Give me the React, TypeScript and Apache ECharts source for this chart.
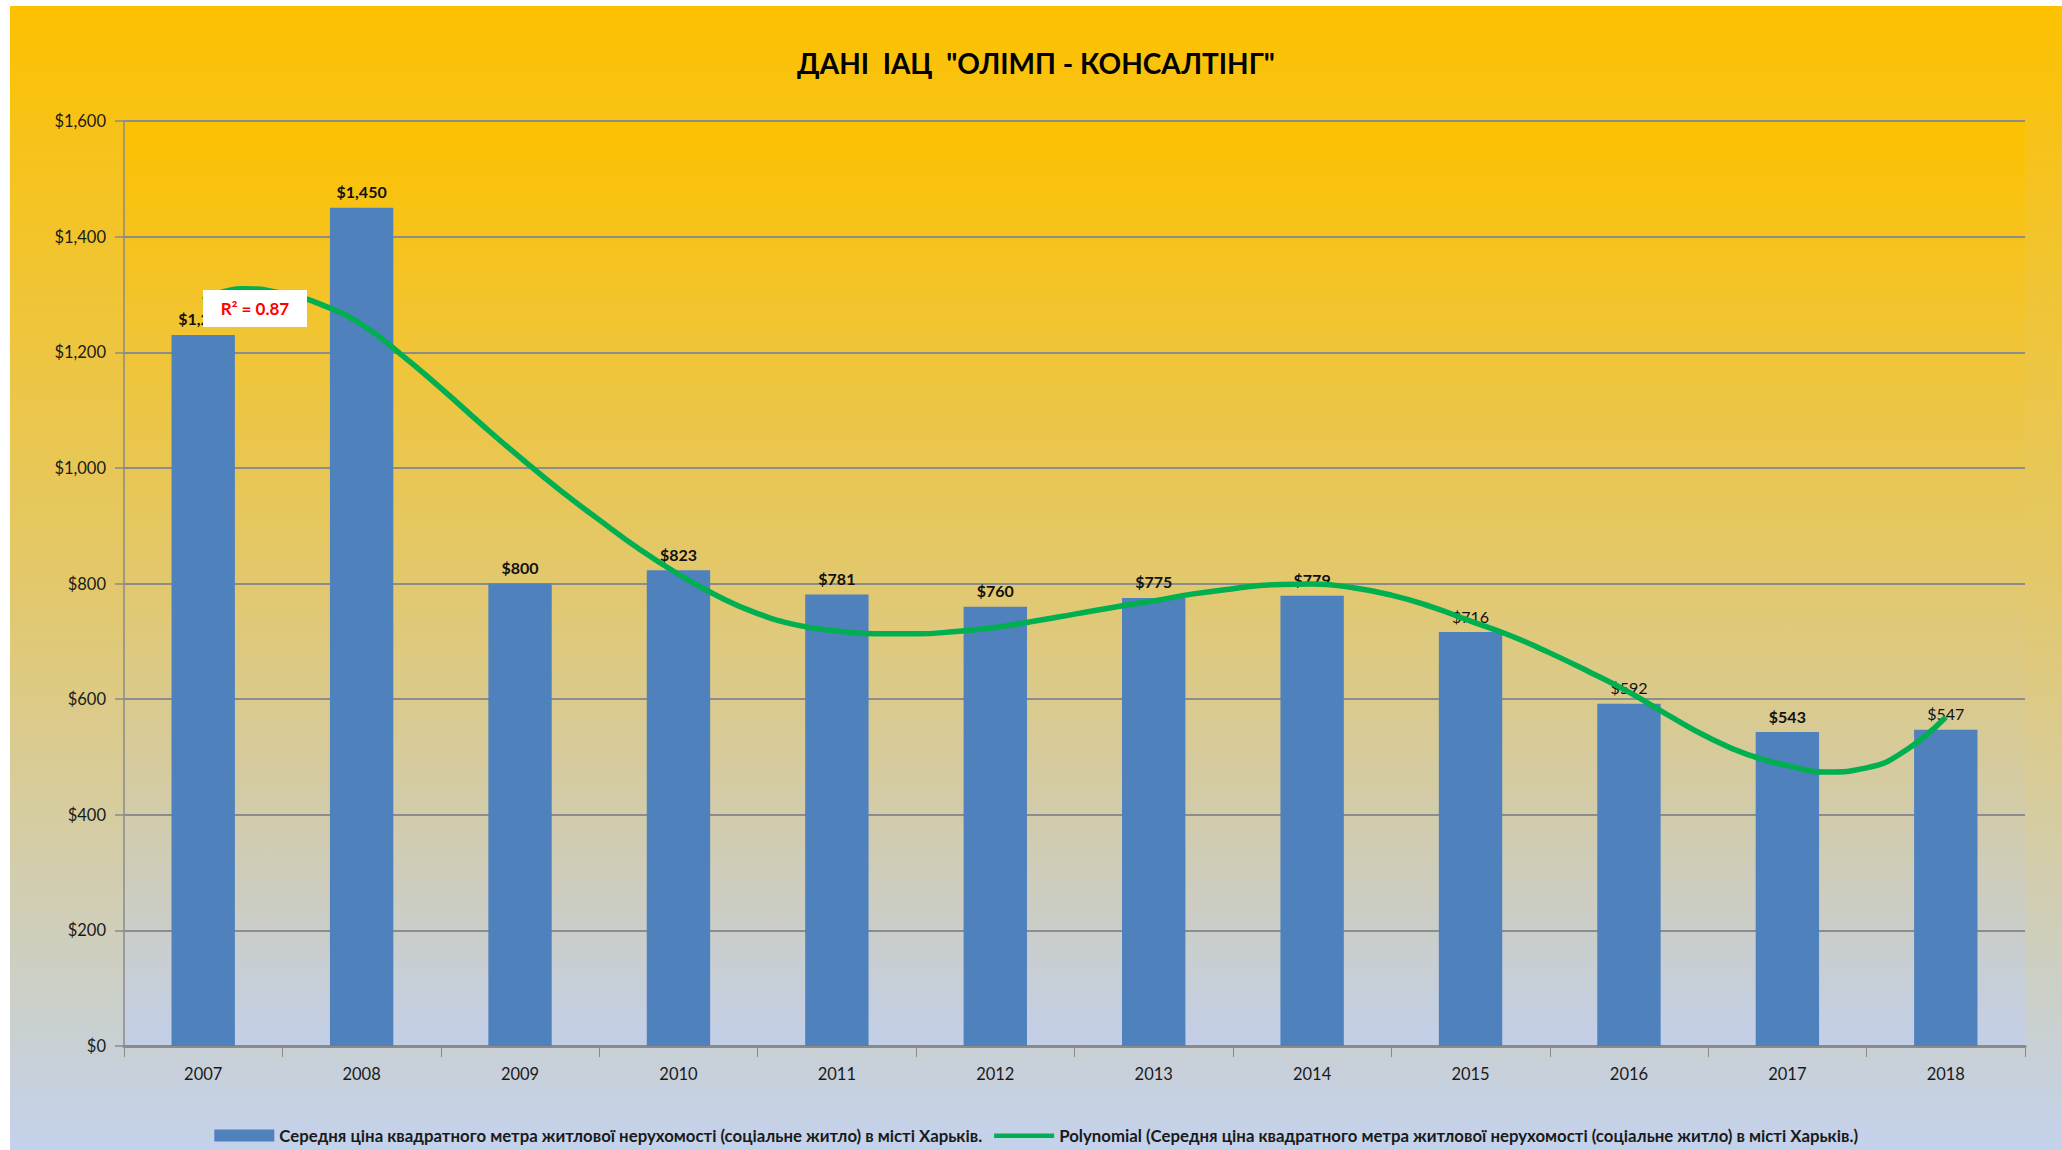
import React, { useEffect, useRef } from "react";
import * as echarts from "echarts";

const categories = ["2007", "2008", "2009", "2010", "2011", "2012", "2013", "2014", "2015", "2016", "2017", "2018"];
const prices = [1230, 1450, 800, 823, 781, 760, 775, 779, 716, 592, 543, 547];
const boldLabel = [true, true, true, true, true, true, true, true, false, false, true, false];
const trendX = [0, 0.25, 0.5, 0.75, 1, 1.25, 1.5, 1.75, 2, 2.25, 2.5, 2.75, 3, 3.25, 3.5, 3.75, 4, 4.25, 4.5, 4.75, 5, 5.25, 5.5, 5.75, 6, 6.25, 6.5, 6.75, 7, 7.25, 7.5, 7.75, 8, 8.25, 8.5, 8.75, 9, 9.25, 9.5, 9.75, 10, 10.25, 10.5, 10.75, 11];
const trendY = [1290, 1310, 1302, 1282, 1248, 1196, 1138, 1077, 1018, 962, 910, 860, 816, 778, 748, 728, 718, 713, 713, 717, 724, 735, 747, 759, 770, 782, 791, 798, 799, 793, 780, 760, 735, 710, 680, 647, 612, 572, 534, 504, 485, 474, 481, 512, 569];
const yTicks = { min: 0, max: 1600, interval: 200 };
const titleText = 'ДАНІ  ІАЦ  "ОЛІМП - КОНСАЛТІНГ"';
const barName = "Середня ціна квадратного метра житлової нерухомості (соціальне житло) в місті Харьків.";
const lineName = "Polynomial (Середня ціна квадратного метра житлової нерухомості (соціальне житло) в місті Харьків.)";
const r2Text = "R² = 0.87";

const FONT = "Lato, 'Noto Sans', 'DejaVu Sans', sans-serif";

const fmt = (v: number) => "$" + v.toLocaleString("en-US");

export default function App() {
  const ref = useRef<HTMLDivElement>(null);
  useEffect(() => {
    if (!ref.current) return;
    const chart = echarts.init(ref.current, null, { renderer: "svg" });
    chart.setOption({
      animation: false,
      backgroundColor: "transparent",
      textStyle: { fontFamily: FONT },
      title: {
        text: titleText,
        left: "center",
        top: 38,
        textStyle: { fontFamily: FONT, fontSize: 28, fontWeight: "bold", color: "#000" },
      },
      legend: {
        bottom: 1,
        left: "center",
        itemWidth: 60,
        itemHeight: 12,
        itemGap: 12,
        textStyle: { fontFamily: FONT, fontSize: 16.8, fontWeight: "bold", color: "#1a1a1a" },
        data: [
          { name: barName, icon: "rect" },
          { name: lineName, icon: "path://M0 0 L0 0 M0 4 L60 4 L60 8.5 L0 8.5 Z M0 12 L0 12" },
        ],
      },
      grid: {
        left: 114,
        top: 115,
        right: 37,
        bottom: 104,
        show: true,
        borderWidth: 0,
        backgroundColor: new echarts.graphic.LinearGradient(0, 0, 0, 1, [
          { offset: 0, color: "#FDC100" },
          { offset: 0.5, color: "#E2C86E" },
          { offset: 1, color: "#C2CFE8" },
        ]),
      },
      xAxis: [
        {
          type: "category",
          data: categories,
          boundaryGap: true,
          axisLine: { lineStyle: { color: "#8a8a8a", width: 3 } },
          axisTick: { show: true, length: 11, lineStyle: { color: "#8a8a8a", width: 1 } },
          axisLabel: { fontFamily: FONT, fontSize: 16.5, color: "#1a1a1a", margin: 19 },
          splitLine: { show: false },
        },
        {
          type: "value",
          min: -0.5,
          max: 11.5,
          show: false,
        },
      ],
      yAxis: {
        type: "value",
        min: yTicks.min,
        max: yTicks.max,
        interval: yTicks.interval,
        axisLine: { show: true, onZero: false, lineStyle: { color: "#8a8a8a", width: 1.5 } },
        axisTick: { show: true, length: 9, lineStyle: { color: "#8a8a8a", width: 1.5 } },
        axisLabel: { fontFamily: FONT, fontSize: 16.5, color: "#1a1a1a", margin: 18, formatter: (v: number) => fmt(v) },
        splitLine: { lineStyle: { color: "#8c8c8c", width: 2 } },
      },
      series: [
        {
          name: barName,
          type: "bar",
          barWidth: "40%",
          itemStyle: { color: "#4F81BD" },
          data: prices.map((v, i) => ({
            value: v,
            label: { fontWeight: boldLabel[i] ? "bold" : "normal" },
          })),
          label: {
            show: true,
            position: "top",
            distance: 8,
            fontFamily: FONT,
            fontSize: 16,
            color: "#111",
            formatter: (p: any) => fmt(p.value),
          },
          z: 2,
        },
        {
          name: lineName,
          type: "line",
          xAxisIndex: 1,
          smooth: 0.5,
          symbol: "none",
          lineStyle: { color: "#00B050", width: 5.5 },
          itemStyle: { color: "#00B050" },
          data: trendX.map((x, i) => [x, trendY[i]]),
          z: 3,
        },
      ],
      graphic: [
        {
          type: "rect",
          z: 100,
          shape: { x: 193, y: 284, width: 104, height: 37 },
          style: { fill: "#ffffff" },
        },
        {
          type: "text",
          z: 101,
          x: 245,
          y: 302,
          style: {
            text: r2Text,
            fill: "#FF0000",
            font: "bold 17px " + FONT,
            align: "center",
            verticalAlign: "middle",
          },
        },
      ],
    });
    return () => chart.dispose();
  }, []);
  return (
    <div
      ref={ref}
      style={{
        position: "fixed",
        left: 10,
        top: 6,
        width: 2052,
        height: 1144,
        background: "linear-gradient(to bottom, #FDC100 0%, #E3C86A 50%, #C3D2EC 100%)",
      }}
    />
  );
}
